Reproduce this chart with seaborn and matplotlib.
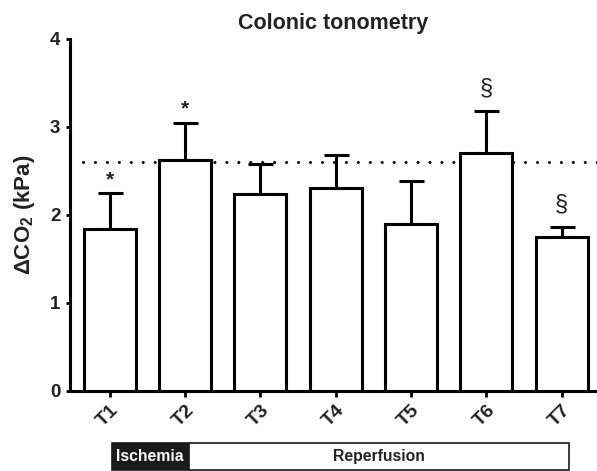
import matplotlib
matplotlib.use("Agg")
import matplotlib.pyplot as plt
from matplotlib.patches import Rectangle
import numpy as np
import pandas as pd
import seaborn as sns

# Colonic tonometry: mean ΔCO2 and SEM per time point
timepoints = ["T1", "T2", "T3", "T4", "T5", "T6", "T7"]
delta_co2 = [1.84, 2.62, 2.23, 2.30, 1.89, 2.70, 1.75]
sem = [0.40, 0.42, 0.34, 0.38, 0.49, 0.48, 0.11]
markers = ["*", "*", "", "", "", "§", "§"]
reference_level = 2.6
phase_labels = ["Ischemia", "Reperfusion"]

sns.set_theme(style="ticks")
plt.rcParams["font.family"] = ["Liberation Sans", "DejaVu Sans"]
plt.rcParams["font.weight"] = "bold"
plt.rcParams["mathtext.fontset"] = "custom"
plt.rcParams["mathtext.rm"] = "Liberation Sans:bold"
plt.rcParams["mathtext.it"] = "Liberation Sans:bold"
plt.rcParams["mathtext.bf"] = "Liberation Sans:bold"

W, H = 597, 471
fig = plt.figure(figsize=(W / 100, H / 100), dpi=100)
ax = fig.add_axes([70 / W, 1 - 390.5 / H, 527 / W, (390.5 - 38.5) / H])

df = pd.DataFrame({"time": timepoints, "value": delta_co2})
lw = 2.2

ax.errorbar(range(len(timepoints)), delta_co2,
            yerr=[np.zeros(len(sem)), sem], fmt="none",
            ecolor="black", elinewidth=lw, capsize=9, capthick=lw, zorder=1)
sns.barplot(data=df, x="time", y="value", color="white", edgecolor="black",
            linewidth=lw, width=0.69, errorbar=None, ax=ax, zorder=2)
for p in ax.patches:
    p.set_facecolor("white")

ax.axhline(reference_level, xmin=0.024, xmax=1.0, color="black",
           linewidth=lw, linestyle=(0, (0.01, 3.9)),
           dash_capstyle="round", zorder=0)

# Significance symbols above the error caps
for i, (m, v, e) in enumerate(zip(markers, delta_co2, sem)):
    if m:
        star = m == "*"
        ax.annotate(m, (i, v + e), xytext=(0, 3 if star else 8),
                    textcoords="offset points", ha="center", va="bottom",
                    fontsize=15 if star else 17,
                    fontweight="bold" if star else "normal",
                    color="#222222")

ax.set_xlim(-0.53, 6.47)
ax.set_ylim(0, 4)
ax.set_yticks([0, 1, 2, 3, 4])
ax.set_xlabel("")
ax.set_ylabel(r"$\Delta$CO$_2$ (kPa)", fontsize=16, fontweight="bold",
              color="#222222", labelpad=9)
ax.set_title("Colonic tonometry", fontsize=15.5, fontweight="bold",
             color="#222222", pad=7)

sns.despine(ax=ax)
for side in ("left", "bottom"):
    ax.spines[side].set_linewidth(lw)
    ax.spines[side].set_color("black")
ax.tick_params(axis="both", colors="black", width=2, labelcolor="#222222")
ax.tick_params(axis="y", length=3, pad=4, labelsize=13.5)
ax.tick_params(axis="x", length=4, pad=4, labelsize=14)
plt.setp(ax.get_xticklabels(), rotation=45, ha="right",
         rotation_mode="anchor", fontweight="bold")
plt.setp(ax.get_yticklabels(), fontweight="bold")

# Phase strip below the axis
strip = fig.add_axes([0, 0, 1, 1], zorder=-1)
strip.set_xlim(0, W)
strip.set_ylim(H, 0)
strip.axis("off")
strip.add_patch(Rectangle((112, 442.5), 76.5, 27.5, facecolor="#1a1a1a",
                          edgecolor="#1a1a1a", linewidth=1.2))
strip.add_patch(Rectangle((188.5, 442.5), 380.5, 27.5, facecolor="white",
                          edgecolor="#1a1a1a", linewidth=1.2))
strip.text(150, 456.5, phase_labels[0], color="white", fontsize=11.3,
           fontweight="bold", ha="center", va="center")
strip.text(378.7, 456.5, phase_labels[1], color="#222222", fontsize=11.3,
           fontweight="bold", ha="center", va="center")

fig.savefig("out.png", dpi=100)
